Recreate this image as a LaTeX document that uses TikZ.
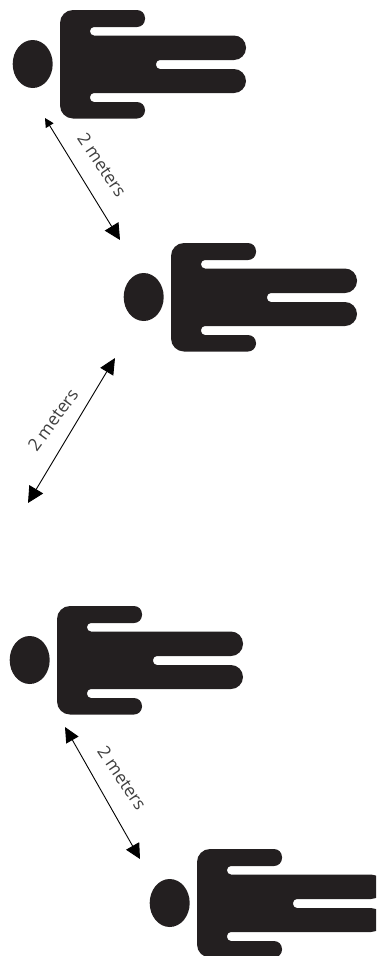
\documentclass[tikz,border=0pt]{standalone}
\usepackage{fontspec}
\setmainfont{Open Sans}
\usetikzlibrary{arrows.meta}
\definecolor{figink}{HTML}{231F20}
\definecolor{labelink}{HTML}{404040}
\tikzset{
  x=1pt,y=-1pt,
  person/.pic={
    \fill[figink] (-27.3,54) ellipse [x radius=20,y radius=24];
    \fill[figink] (0,54)
      [rounded corners=13pt] -- (0,0)
      [rounded corners=8pt] -- (85,0) -- (85,17)
      [rounded corners=4pt] -- (30,17) -- (30,25.5)
      [rounded corners=12pt] -- (186,25.5) -- (186,50)
      [rounded corners=4pt] -- (96,50) -- (96,59)
      [rounded corners=12pt] -- (186,59) -- (186,83)
      [rounded corners=4pt] -- (30,83) -- (30,92)
      [rounded corners=8pt] -- (85,92) -- (85,108.5)
      [rounded corners=13pt] -- (0,108.5)
      [sharp corners] -- cycle;
  },
  dist/.style={line width=0.9pt,black},
  lab/.style={font=\fontsize{17.5pt}{20pt}\selectfont,text=labelink,inner sep=0pt},
}
\begin{document}
\begin{tikzpicture}
\useasboundingbox[clip] (0,0) rectangle (376,956);
\pic (p1) at (60,10) {person};
\pic (p2) at (171,243) {person};
\pic (p3) at (57,606) {person};
\pic (p4) at (197,849) {person};
\coordinate (a1s) at (45,118);
\coordinate (a1e) at (120,240);
\coordinate (a2s) at (115,358);
\coordinate (a2e) at (28,503);
\coordinate (a3s) at (65,727);
\coordinate (a3e) at (140,859);
\draw[dist,{Triangle[length=9pt,width=9pt]}-{Triangle[length=16pt,width=16pt]}] (a1s) -- (a1e);
\draw[dist,{Triangle[length=16pt,width=15pt]}-{Triangle[length=16pt,width=16pt]}] (a2s) -- (a2e);
\draw[dist,{Triangle[length=15pt,width=14pt]}-{Triangle[length=15pt,width=15pt]}] (a3s) -- (a3e);
\node[lab,rotate=-56] (t1) at (102,165) {2 meters};
\node[lab,rotate=54] (t2) at (53,420) {2 meters};
\node[lab,rotate=-56] (t3) at (122,778) {2 meters};
\end{tikzpicture}
\end{document}
